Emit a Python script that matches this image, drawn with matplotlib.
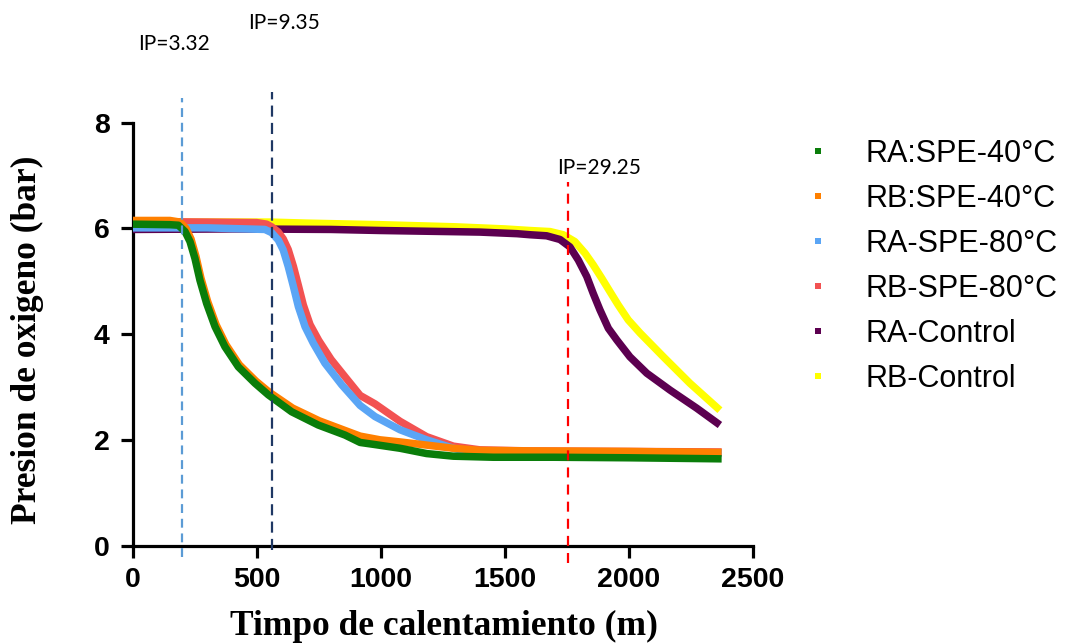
import matplotlib
matplotlib.use("Agg")
import matplotlib.pyplot as plt
from matplotlib.lines import Line2D

# --- oxygen pressure (bar) vs heating time (min) ---
t_ra40 = [0, 150, 184, 211, 231, 251, 271, 298, 332, 372, 426, 493, 547, 641, 748, 856, 917, 977,
          1078, 1185, 1293, 1454, 1700, 2000, 2375]
p_ra40 = [6.08, 6.07, 6.06, 5.94, 5.75, 5.43, 5.02, 4.58, 4.14, 3.76, 3.38, 3.07, 2.85, 2.53, 2.28, 2.09,
          1.95, 1.91, 1.84, 1.74, 1.69, 1.67, 1.67, 1.66, 1.64]

t_rb40 = [0, 150, 190, 215, 235, 255, 275, 302, 336, 376, 430, 497, 551, 645, 752, 860, 917, 997,
          1078, 1185, 1293, 1400, 1600, 2000, 2375]
p_rb40 = [6.15, 6.15, 6.12, 6.0, 5.8, 5.47, 5.06, 4.62, 4.18, 3.8, 3.42, 3.11, 2.9, 2.6, 2.36, 2.17,
          2.07, 2.0, 1.96, 1.9, 1.84, 1.8, 1.79, 1.78, 1.76]

t_ra80 = [0, 300, 533, 560, 587, 607, 627, 648, 668, 695, 728, 775, 843, 917, 977, 1078, 1185,
          1293, 1414, 1600, 2000, 2375]
p_ra80 = [6.01, 6.01, 5.98, 5.92, 5.78, 5.59, 5.28, 4.9, 4.52, 4.14, 3.83, 3.45, 3.04, 2.65, 2.44, 2.19, 2.0,
          1.84, 1.71, 1.73, 1.75, 1.75]

t_rb80 = [0, 300, 500, 540, 560, 587, 607, 627, 648, 668, 688, 715, 750, 800, 860, 917, 977, 1078,
          1185, 1293, 1400, 1600, 2000, 2375]
p_rb80 = [6.13, 6.12, 6.11, 6.08, 6.03, 5.93, 5.8, 5.6, 5.28, 4.92, 4.55, 4.18, 3.88, 3.52, 3.17, 2.84,
          2.68, 2.35, 2.06, 1.88, 1.81, 1.79, 1.78, 1.77]

t_ractl = [0, 400, 800, 1000, 1400, 1550, 1602, 1669, 1723, 1763, 1797, 1831, 1857, 1884, 1918, 1952,
           2005, 2073, 2167, 2274, 2368]
p_ractl = [5.98, 5.99, 5.98, 5.96, 5.93, 5.9, 5.88, 5.86, 5.79, 5.65, 5.4, 5.09, 4.77, 4.46, 4.11, 3.89,
           3.57, 3.26, 2.94, 2.6, 2.28]

t_rbctl = [0, 550, 700, 1000, 1300, 1500, 1602, 1683, 1736, 1783, 1824, 1857, 1891, 1925, 1958, 1998,
           2046, 2140, 2247, 2368]
p_rbctl = [6.12, 6.12, 6.1, 6.07, 6.03, 5.99, 5.96, 5.94, 5.88, 5.75, 5.53, 5.31, 5.06, 4.8, 4.55, 4.27,
           4.02, 3.57, 3.07, 2.56]

labels = ["RA:SPE-40°C", "RB:SPE-40°C", "RA-SPE-80°C", "RB-SPE-80°C", "RA-Control", "RB-Control"]
colors = ["#0a7d0a", "#ff8000", "#5aa5f5", "#f25252", "#5c0050", "#ffff00"]

# induction periods (h) -> dashed markers in minutes
ip_hours = [3.32, 9.35, 29.25]
ip_colors = ["#5b9bd5", "#1f3864", "#ff0000"]
ip_dashes = [(0, (4, 2.6)), (0, (5, 2.8)), (0, (4.5, 3.2))]
ip_span = [(-0.22, 8.47), (-0.085, 8.58), (-0.33, 6.87)]
ip_text_pos = [(21, 9.49), (464, 9.89), (1710, 7.14)]

fig = plt.figure(figsize=(10.8, 6.43), dpi=100)
ax = fig.add_axes([0.1229, 0.1516, 0.574, 0.6576])

series = [(t_ra40, p_ra40), (t_rb40, p_rb40), (t_ra80, p_ra80),
          (t_rb80, p_rb80), (t_ractl, p_ractl), (t_rbctl, p_rbctl)]
for i in [5, 4, 3, 2, 1, 0]:  # green drawn last, on top
    t, p = series[i]
    ax.plot(t, p, color=colors[i], lw=5.4, solid_capstyle="butt",
            solid_joinstyle="round", zorder=3 + (5 - i))

for ip, c, ls, (y0, y1), (tx, ty) in zip(ip_hours, ip_colors, ip_dashes, ip_span, ip_text_pos):
    x = ip * 60
    ax.plot([x, x], [y0, y1], color=c, lw=1.6, ls=ls,
            clip_on=False, zorder=10)
    ax.text(tx, ty, f"IP={ip}", fontsize=15, family="Lato",
            ha="left", va="center", clip_on=False)

ax.set_xlim(0, 2500)
ax.set_ylim(0, 8)
ax.set_xticks([0, 500, 1000, 1500, 2000, 2500])
ax.set_yticks([0, 2, 4, 6, 8])

for s in ["top", "right"]:
    ax.spines[s].set_visible(False)
for s in ["left", "bottom"]:
    ax.spines[s].set_linewidth(2.3)
ax.tick_params(axis="both", width=2.3, length=8.5, labelsize=20.5)
ax.tick_params(axis="y", pad=8)
ax.tick_params(axis="x", pad=7)
for lab in ax.get_xticklabels() + ax.get_yticklabels():
    lab.set_fontfamily("Liberation Sans")
    lab.set_fontweight("bold")

fig.text(444 / 1080, 1 - 626 / 643, "Timpo de calentamiento (m)",
         family="Liberation Serif", fontweight="bold", fontsize=25.5,
         ha="center", va="center")
fig.text(27 / 1080, 1 - 340 / 643, "Presion de oxigeno (bar)",
         family="Liberation Serif", fontweight="bold", fontsize=25.5,
         ha="center", va="center", rotation=90)

handles = [Line2D([], [], ls="none", marker="s", markersize=4,
                  color=c, markeredgewidth=0) for c in colors]
fig.legend(handles, labels, loc="upper left",
           bbox_to_anchor=(803 / 1080, 1 - 139 / 643),
           frameon=False, borderpad=0, borderaxespad=0,
           handlelength=1.0, handletextpad=1.03, labelspacing=0.49,
           prop={"family": "Liberation Sans", "size": 22})

fig.savefig("out.png", dpi=100, facecolor="white")
